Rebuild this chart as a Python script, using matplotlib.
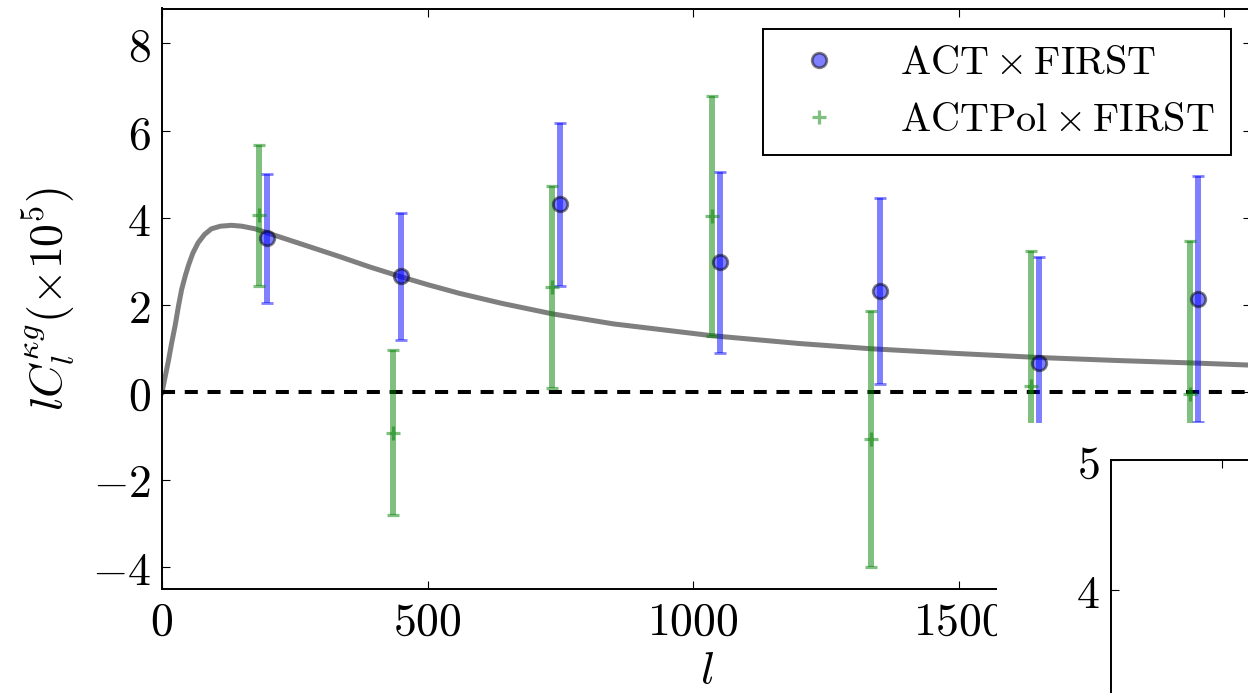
import matplotlib
matplotlib.use("Agg")
import matplotlib.pyplot as plt
from matplotlib.patches import Rectangle
from matplotlib.ticker import FuncFormatter, FixedLocator, NullFormatter

plt.rcParams['mathtext.fontset'] = 'cm'
plt.rcParams['font.family'] = ['DejaVu Serif']

# ---- data ----
act_l = [197, 450, 750, 1050, 1351, 1651, 1951]
act_v = [3.53, 2.66, 4.31, 2.98, 2.32, 0.68, 2.14]
act_err = [1.48, 1.45, 1.86, 2.07, 2.13, 2.43, 2.82]

pol_l = [183, 434, 734, 1035, 1335, 1636, 1936]
pol_v = [4.06, -0.92, 2.42, 4.04, -1.07, 0.15, -0.03]
pol_err = [1.61, 1.90, 2.32, 2.75, 2.93, 3.08, 3.50]

theory_l = [0, 6, 12, 18, 25, 31, 37, 44, 50, 58, 68, 80, 93, 110, 131, 150, 175,
            200, 250, 290, 335, 390, 450, 500, 560, 640, 735, 850, 1035, 1200,
            1335, 1500, 1650, 1800, 1950, 2060]
theory_v = [0.0, 0.36, 0.72, 1.12, 1.55, 1.98, 2.36, 2.68, 2.92, 3.19, 3.43, 3.62,
            3.75, 3.81, 3.83, 3.81, 3.75, 3.65, 3.45, 3.29, 3.11, 2.88, 2.65,
            2.47, 2.27, 2.04, 1.80, 1.57, 1.30, 1.12, 1.00, 0.89, 0.80, 0.73,
            0.67, 0.62]

yticks_main = [-4, -2, 0, 2, 4, 6, 8]
xticks_main = [0, 500, 1000, 1500, 2000]
yticks_inset = [4, 5]
label_act = r'$\mathrm{ACT}\times\mathrm{FIRST}$'
label_pol = r'$\mathrm{ACTPol}\times\mathrm{FIRST}$'

W, H = 1248, 693
fig = plt.figure(figsize=(W / 100, H / 100), dpi=100)

def px_axes(left, top, right, bottom):
    return [left / W, 1 - bottom / H, (right - left) / W, (bottom - top) / H]

ax = fig.add_axes(px_axes(162, 8.5, 1251, 588.7))
ax.set_zorder(0)

fmt = FuncFormatter(lambda v, p: r'$%g$' % v)

ax.plot(theory_l, theory_v, color='black', alpha=0.5, lw=3.6, zorder=2,
        solid_joinstyle='round')
ax.axhline(0, color='black', lw=2.9, linestyle=(0, (3.24, 2.41)), zorder=3)

eb1 = ax.errorbar(act_l, act_v, yerr=act_err, fmt='o', color='b', alpha=0.5,
                  ecolor='b', elinewidth=4.3, capsize=4.2, capthick=1.6,
                  ms=10.5, mec='black', mew=2.0, label=label_act, zorder=4)
eb2 = ax.errorbar(pol_l, pol_v, yerr=pol_err, fmt='+', color='g', alpha=0.5,
                  ecolor='g', elinewidth=4.3, capsize=4.2, capthick=1.6,
                  ms=10, mew=2.3, label=label_pol, zorder=4)

ax.set_xlim(0, 2050)
ax.set_ylim(-4.5, 8.8)
ax.xaxis.set_major_locator(FixedLocator(xticks_main))
ax.yaxis.set_major_locator(FixedLocator(yticks_main))
ax.xaxis.set_major_formatter(fmt)
ax.yaxis.set_major_formatter(fmt)
ax.tick_params(direction='in', length=5.5, width=0.8, top=True, right=True,
               labelsize=33, pad=8)
for s in ax.spines.values():
    s.set_linewidth(1.4)

ax.set_xlabel(r'$l$', fontsize=33, labelpad=2)
ax.set_ylabel(r'$lC_l^{\kappa g}(\times 10^5)$', fontsize=33, labelpad=10)

leg = ax.legend([eb1[0], eb2[0]], [label_act, label_pol], loc='upper right',
                numpoints=1, fontsize=29, fancybox=False, framealpha=1,
                edgecolor='black', handletextpad=1.0)
leg.get_frame().set_linewidth(1.4)

# white panel of the neighbouring figure overlapping the bottom-right corner
rect = Rectangle((996.7 / W, 0), 1 - 996.7 / W, (H - 422.7) / H,
                 transform=fig.transFigure, facecolor='white', edgecolor='none',
                 zorder=1)
fig.patches.append(rect)

ax2 = fig.add_axes(px_axes(1110.7, 460, 1390, 720))
ax2.set_zorder(2)
ax2.set_xlim(0, 2.5)
ax2.set_ylim(3, 5)
ax2.xaxis.set_major_locator(FixedLocator([1, 2]))
ax2.yaxis.set_major_locator(FixedLocator(yticks_inset))
ax2.yaxis.set_major_formatter(fmt)
ax2.xaxis.set_major_formatter(NullFormatter())
ax2.tick_params(direction='in', length=5.5, width=0.8, top=True, right=True,
                labelsize=33, pad=8)
for s in ax2.spines.values():
    s.set_linewidth(1.4)

fig.savefig('out.png', dpi=100)
